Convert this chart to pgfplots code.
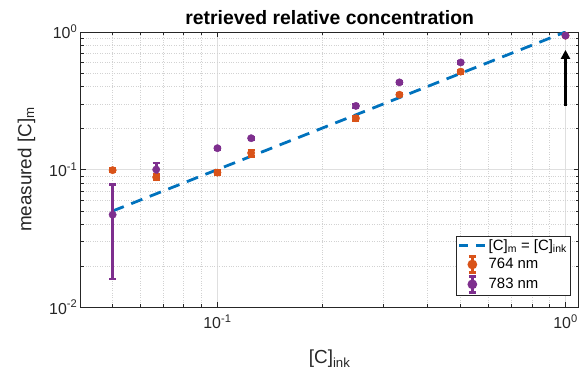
\documentclass[border=0pt]{standalone}
\usepackage{fontspec}
\setmainfont{Liberation Sans}
\usepackage{pgfplots}
\pgfplotsset{compat=1.18}
\usetikzlibrary{arrows.meta}
\definecolor{mblue}{rgb}{0,0.447,0.741}
\definecolor{morange}{rgb}{0.85,0.325,0.098}
\definecolor{mpurple}{rgb}{0.494,0.184,0.556}
\definecolor{axgray}{rgb}{0.15,0.15,0.15}
\begin{document}
\begin{tikzpicture}
\begin{axis}[
  scale only axis, width=499bp, height=276bp,
  at={(0,0)}, anchor=south west,
  xmode=log, ymode=log,
  xmin=0.0405, xmax=1.09, ymin=0.01, ymax=1,
  xtick={0.1,1}, xticklabels={10\textsuperscript{-1},10\textsuperscript{0}},
  ytick={0.01,0.1,1}, yticklabels={10\textsuperscript{-2},10\textsuperscript{-1},10\textsuperscript{0}},
  minor xtick={0.05,0.06,0.07,0.08,0.09,0.2,0.3,0.4,0.5,0.6,0.7,0.8,0.9},
  minor ytick={0.02,0.03,0.04,0.05,0.06,0.07,0.08,0.09,0.2,0.3,0.4,0.5,0.6,0.7,0.8,0.9},
  grid=both,
  major grid style={gray!25, line width=0.6bp},
  minor grid style={gray!35, dotted, line width=0.5bp},
  axis line style={axgray, line width=0.6bp},
  tick style={axgray, line width=0.5bp},
  major tick length=5bp, minor tick length=3bp,
  tick align=inside,
  ticklabel style={font=\fontsize{16}{18}\selectfont, text=axgray},
  xticklabel style={yshift=-4bp},
  title={\textbf{retrieved relative concentration}},
  title style={font=\fontsize{19.5}{22}\selectfont, yshift=-2bp},
  xlabel={[C]\textsubscript{ink}},
  ylabel={measured [C]\textsubscript{m}},
  label style={font=\fontsize{19}{21}\selectfont, text=axgray},
  xlabel style={yshift=-14bp},
  ylabel style={yshift=7bp},
  legend style={at={(1,0)}, anchor=south east, xshift=-8bp, yshift=12bp,
    font=\fontsize{15}{16}\selectfont, draw=axgray, line width=0.5bp,
    inner sep=1.5bp, row sep=1.5bp, text=black},
  legend cell align=left,
  error bars/error mark options={rotate=90, mark size=3.5bp, line width=2.6bp},
]
\addplot[mblue, line width=2.8bp, dash pattern=on 12bp off 8bp,
  legend image code/.code={\draw[mblue, line width=2.8bp, dash pattern=on 9bp off 8bp] (0bp,0bp) -- (26bp,0bp);}]
  coordinates {(0.05,0.05) (1,1)};
\addlegendentry{[C]\textsubscript{m} = [C]\textsubscript{ink}}

\addplot[morange, only marks, mark=*, mark size=3.7bp, line width=2.6bp,
  mark options={line width=0.4bp},
  legend image code/.code={
    \draw[morange, line width=2.4bp] (13bp,-8bp) -- (13bp,8bp);
    \draw[morange, line width=2.4bp] (9.5bp,8bp) -- (16.5bp,8bp);
    \draw[morange, line width=2.4bp] (9.5bp,-8bp) -- (16.5bp,-8bp);
    \fill[morange] (13bp,0bp) circle (3.5bp);},
  error bars/.cd, y dir=both, y explicit,
  error bar style={morange, line width=2.6bp}]
  coordinates {
  (0.05,0.099) +- (0,0.003)
  (0.0667,0.088) +- (0,0.004)
  (0.1,0.095) +- (0,0.003)
  (0.125,0.132) +- (0,0.007)
  (0.25,0.236) +- (0,0.008)
  (0.3333,0.350) +- (0,0.008)
  (0.5,0.515) +- (0,0.015)
  (1,0.94) +- (0,0.01)
  };
\addlegendentry{764 nm}

\addplot[mpurple, only marks, mark=*, mark size=3.7bp, line width=2.6bp,
  mark options={line width=0.4bp},
  legend image code/.code={
    \draw[mpurple, line width=2.4bp] (13bp,-8bp) -- (13bp,8bp);
    \draw[mpurple, line width=2.4bp] (9.5bp,8bp) -- (16.5bp,8bp);
    \draw[mpurple, line width=2.4bp] (9.5bp,-8bp) -- (16.5bp,-8bp);
    \fill[mpurple] (13bp,0bp) circle (3.5bp);},
  error bars/.cd, y dir=both, y explicit,
  error bar style={mpurple, line width=2.6bp}]
  coordinates {
  (0.05,0.047) +- (0,0.031)
  (0.0667,0.100) +- (0,0.012)
  (0.1,0.143) +- (0,0.003)
  (0.125,0.169) +- (0,0.004)
  (0.25,0.29) +- (0,0.01)
  (0.3333,0.43) +- (0,0.008)
  (0.5,0.60) +- (0,0.01)
  (1,0.94) +- (0,0.005)
  };
\addlegendentry{783 nm}

\draw[black, line width=3.4bp, -{Triangle[length=9bp,width=9bp]}] (axis cs:1,0.29) -- (axis cs:1,0.74);
\end{axis}
\path[use as bounding box] (-81bp,-59bp) rectangle (500bp,308bp);
\end{tikzpicture}
\end{document}
